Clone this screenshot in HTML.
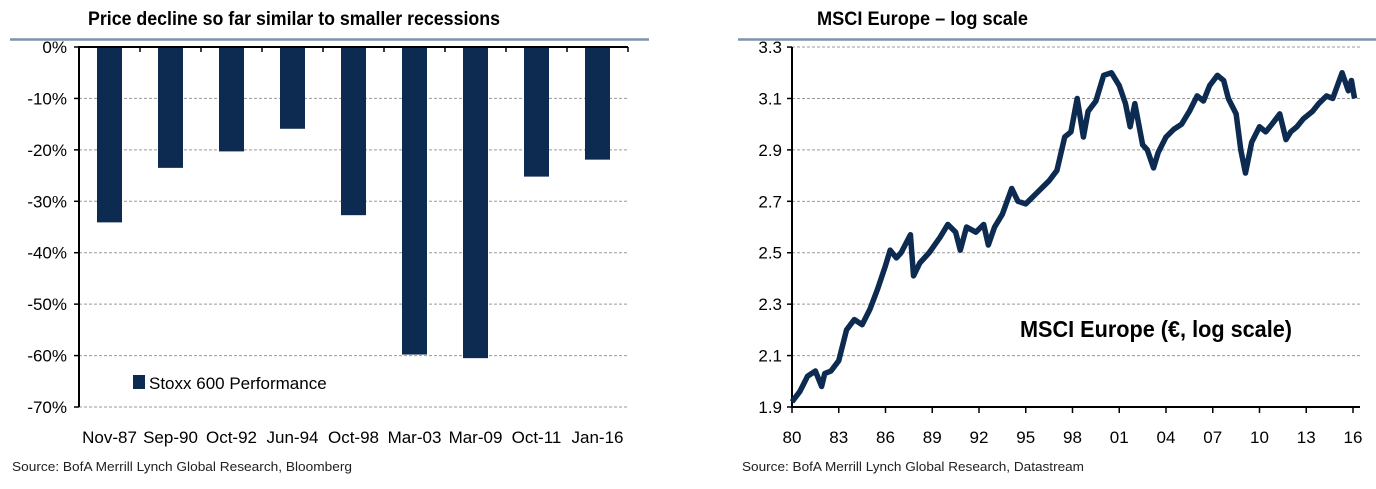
<!DOCTYPE html>
<html><head><meta charset="utf-8"><style>
body{margin:0;background:#fff;width:1376px;height:484px;overflow:hidden}
svg text{font-family:"Liberation Sans",sans-serif}
.t{font-family:"Liberation Sans Narrow","Liberation Sans",sans-serif;font-weight:bold;font-size:19px;fill:#000}
.ax{font-size:17px;fill:#000}
.src{font-size:12.5px;fill:#222}
</style></head><body>
<svg id="s" width="1376" height="484" xmlns="http://www.w3.org/2000/svg">
<text class="t" x="88" y="25" textLength="412" lengthAdjust="spacingAndGlyphs">Price decline so far similar to smaller recessions</text>
<line x1="10" y1="39.5" x2="649" y2="39.5" stroke="#7f93ad" stroke-width="2.5"/>
<text class="t" x="817" y="25" textLength="211" lengthAdjust="spacingAndGlyphs">MSCI Europe – log scale</text>
<line x1="738" y1="39.5" x2="1376" y2="39.5" stroke="#7f93ad" stroke-width="2.5"/>
<g id="left"></g><g id="right"></g>
<text class="src" x="12" y="471" textLength="340" lengthAdjust="spacingAndGlyphs">Source: BofA Merrill Lynch Global Research, Bloomberg</text>
<text class="src" x="742" y="471" textLength="342" lengthAdjust="spacingAndGlyphs">Source: BofA Merrill Lynch Global Research, Datastream</text>
</svg>
<script>
const categories=["Nov-87","Sep-90","Oct-92","Jun-94","Oct-98","Mar-03","Mar-09","Oct-11","Jan-16"];
const stoxxValues=[-34.1,-23.5,-20.3,-15.9,-32.7,-59.8,-60.5,-25.2,-21.9];
const leftTicks=[0,-10,-20,-30,-40,-50,-60,-70];
const years=[1980,1980.5,1981,1981.5,1981.9,1982.1,1982.5,1983,1983.5,1984,1984.5,1985,1985.5,1986,1986.3,1986.7,1987,1987.6,1987.8,1988.2,1988.8,1989.5,1990,1990.5,1990.8,1991.2,1991.8,1992.3,1992.6,1993,1993.5,1994.1,1994.5,1995,1995.5,1996,1996.5,1997,1997.5,1997.9,1998.3,1998.7,1999,1999.5,2000,2000.5,2001,2001.4,2001.7,2002,2002.5,2002.8,2003.2,2003.5,2004,2004.5,2005,2005.5,2006,2006.4,2006.8,2007.3,2007.7,2008,2008.5,2008.8,2009.1,2009.5,2010,2010.4,2010.8,2011.3,2011.7,2012,2012.4,2012.8,2013.4,2013.8,2014.3,2014.7,2015.3,2015.7,2015.9,2016.1];
const msciLog=[1.92,1.96,2.02,2.04,1.98,2.03,2.04,2.08,2.20,2.24,2.22,2.28,2.36,2.45,2.51,2.48,2.50,2.57,2.41,2.46,2.50,2.56,2.61,2.58,2.51,2.60,2.58,2.61,2.53,2.60,2.65,2.75,2.70,2.69,2.72,2.75,2.78,2.82,2.95,2.97,3.10,2.95,3.05,3.09,3.19,3.20,3.15,3.08,2.99,3.08,2.92,2.90,2.83,2.89,2.95,2.98,3.00,3.05,3.11,3.09,3.15,3.19,3.17,3.10,3.04,2.90,2.81,2.93,2.99,2.97,3.00,3.04,2.94,2.97,2.99,3.02,3.05,3.08,3.11,3.10,3.20,3.13,3.17,3.10];
const rightTicks=[1.9,2.1,2.3,2.5,2.7,2.9,3.1,3.3];
const xTickLabels=["80","83","86","89","92","95","98","01","04","07","10","13","16"];
const NS="http://www.w3.org/2000/svg";
function mk(p,tag,a){const e=document.createElementNS(NS,tag);for(const k in a)e.setAttribute(k,a[k]);p.appendChild(e);return e;}
// left
const L=document.getElementById('left');
const lx0=79,lx1=628,ly=v=>47+(-v)*5.143,cw=(lx1-lx0)/categories.length;
leftTicks.forEach(t=>{if(t!==0){const g=mk(L,'line',{x1:lx0,x2:lx1,y1:ly(t),y2:ly(t),stroke:'#999','stroke-dasharray':'3,2'});

}
const tk=mk(L,'line',{x1:lx0-5,x2:lx0,y1:ly(t),y2:ly(t),stroke:'#000','stroke-width':1.5});


const tx=mk(L,'text',{x:lx0-12,y:ly(t)+6,'text-anchor':'end',class:'ax'});tx.textContent=t+'%';

});
stoxxValues.forEach((v,i)=>{const r=mk(L,'rect',{x:lx0+i*cw+18,y:ly(0),width:25,height:ly(v)-ly(0),fill:'#0d2a50'});


const tx=mk(L,'text',{x:lx0+i*cw+cw/2,y:443,'text-anchor':'middle',class:'ax'});tx.textContent=categories[i];


if(i>0){const tk=mk(L,'line',{x1:lx0+i*cw,x2:lx0+i*cw,y1:ly(0),y2:ly(0)+5,stroke:'#000','stroke-width':1.5});

}});
let a=mk(L,'line',{x1:lx0,x2:lx1,y1:ly(0),y2:ly(0),stroke:'#000','stroke-width':2});

a=mk(L,'line',{x1:lx0,x2:lx0,y1:ly(0)-1,y2:ly(-70),stroke:'#000','stroke-width':2});

a=mk(L,'line',{x1:lx1,x2:lx1,y1:ly(0),y2:ly(0)+5,stroke:'#000','stroke-width':1.5});

const lg=mk(L,'rect',{x:133,y:375,width:12,height:14,fill:'#0d2a50'});

const lt=mk(L,'text',{x:149,y:389,class:'ax'});lt.textContent='Stoxx 600 Performance';

// right
const R=document.getElementById('right');
const rx0=792,rx1=1360,rx=y=>792+(y-1980)*(1353-792)/36,ry=v=>407-(v-1.9)*257.1;
rightTicks.forEach(t=>{if(t!==1.9){const g=mk(R,'line',{x1:rx0,x2:rx1,y1:ry(t),y2:ry(t),stroke:'#999','stroke-dasharray':'3,2'});

}
const tk=mk(R,'line',{x1:rx0-5,x2:rx0,y1:ry(t),y2:ry(t),stroke:'#000','stroke-width':1.5});


const tx=mk(R,'text',{x:rx0-10,y:ry(t)+6,'text-anchor':'end',class:'ax'});tx.textContent=t.toFixed(1);

});
xTickLabels.forEach((l,i)=>{const x=rx(1980+3*i);
const tk=mk(R,'line',{x1:x,x2:x,y1:ry(1.9),y2:ry(1.9)+6,stroke:'#000','stroke-width':1.5});


const tx=mk(R,'text',{x:x,y:443,'text-anchor':'middle',class:'ax'});tx.textContent=l;

});
a=mk(R,'line',{x1:rx0,x2:rx1,y1:ry(1.9),y2:ry(1.9),stroke:'#000','stroke-width':2});

a=mk(R,'line',{x1:rx0,x2:rx0,y1:ry(3.3),y2:ry(1.9)+1,stroke:'#000','stroke-width':2});

const pl=mk(R,'polyline',{points:years.map((y,i)=>rx(y)+','+ry(msciLog[i])).join(' '),fill:'none',stroke:'#0d2a50','stroke-width':5.5,'stroke-linejoin':'round'});


const an=mk(R,'text',{x:1020,y:337,'font-size':'23px','font-weight':'bold',fill:'#000',textLength:272,lengthAdjust:'spacingAndGlyphs'});an.textContent='MSCI Europe (€, log scale)';


</script>
</body></html>
